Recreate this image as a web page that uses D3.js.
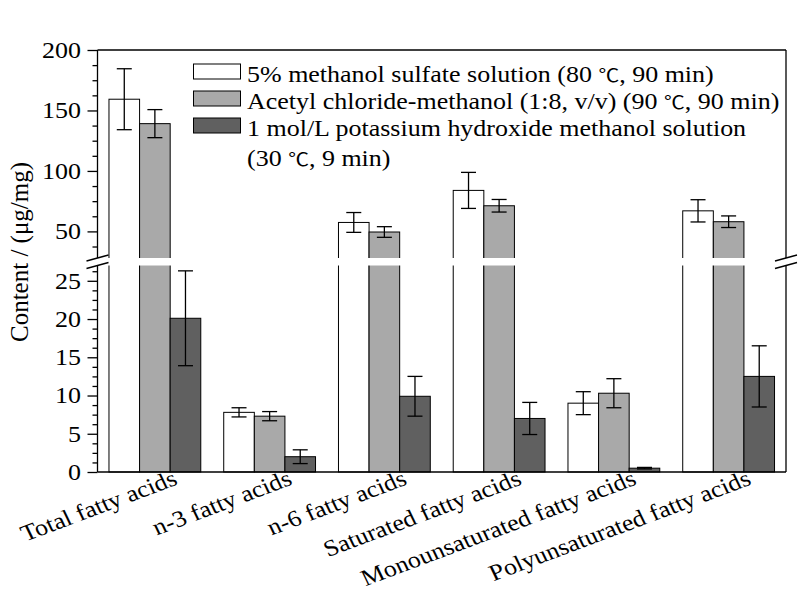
<!DOCTYPE html>
<html>
<head>
<meta charset="utf-8">
<script src="https://cdn.jsdelivr.net/npm/d3@7"></script>
<style>
  html, body { margin: 0; padding: 0; background: #fff; }
  svg { display: block; }
  text { font-family: "Liberation Serif", "Times New Roman", Times, serif; fill: #000; }
  tspan.sym { font-family: "Noto Sans CJK SC", "Noto Sans CJK JP", sans-serif; font-size: 0.8em; }
</style>
</head>
<body>
<svg id="chart" width="799" height="592"></svg>
<script>
// ---------------- data ----------------
const categories = ["Total fatty acids", "n-3 fatty acids", "n-6 fatty acids",
  "Saturated fatty acids", "Monounsaturated fatty acids", "Polyunsaturated fatty acids"];
const seriesNames = ["5% methanol sulfate solution (80 \u2103, 90 min)",
  "Acetyl chloride-methanol (1:8, v/v) (90 \u2103, 90 min)",
  "1 mol/L potassium hydroxide methanol solution"];
const legendExtra = "(30 \u2103, 9 min)";
const sulfateValues = [159.3, 7.8, 57.4, 83.9, 9.0, 67.0];
const sulfateErrors = [25.2, 0.6, 8.2, 14.9, 1.5, 9.2];
const acetylValues = [139.1, 7.3, 49.5, 71.2, 10.3, 58.0];
const acetylErrors = [11.6, 0.6, 4.4, 5.2, 1.9, 4.8];
const kohValues = [20.1, 2.0, 9.9, 7.0, 0.5, 12.5];
const kohErrors = [6.2, 0.9, 2.6, 2.1, 0.1, 4.0];
const upperTicks = [50, 100, 150, 200];
const lowerTicks = [0, 5, 10, 15, 20, 25];
const yTitle = "Content / (\u03bcg/mg)";

const seriesValues = [sulfateValues, acetylValues, kohValues];
const seriesErrors = [sulfateErrors, acetylErrors, kohErrors];
const fills = ["#ffffff", "#a9a9a9", "#606060"];

// ---------------- layout ----------------
const svg = d3.select("#chart");
const L = 97.5, R = 786, T = 50, B = 472;
const breakTop = 258, breakBot = 265.5;
const lowMax = 27, upMin = 28;
const FS = 23, SX = 1.13;

const x = d3.scaleBand().domain(categories).range([L, R]).paddingInner(0.2).paddingOuter(0.1);
const xs = d3.scaleBand().domain([0, 1, 2]).range([0, x.bandwidth()]);
const yUp = d3.scaleLinear().domain([upMin, 200]).range([breakTop, T]);
const yLo = d3.scaleLinear().domain([0, lowMax]).range([B, breakBot]);
const yv = v => v > lowMax ? yUp(v) : yLo(v);

// text with the ℃ sign in a CJK font
function richText(sel, str) {
  str.split(/(\u2103)/).forEach(part => {
    if (!part) return;
    const t = sel.append("tspan").text(part);
    if (part === "\u2103") t.attr("class", "sym");
  });
}

// bars
const g = svg.append("g");
seriesValues.forEach((vals, s) => {
  categories.forEach((c, i) => {
    const v = vals[i], e = seriesErrors[s][i];
    const x0 = x(c) + xs(s), w = xs.bandwidth();
    g.append("rect")
      .attr("x", x0).attr("y", yv(v))
      .attr("width", w).attr("height", yLo(0) - yv(v))
      .attr("fill", fills[s]).attr("stroke", "#000").attr("stroke-width", 1);
    const cx = x0 + w / 2;
    const yt = yv(v + e), yb = yv(v - e);
    g.append("line").attr("x1", cx).attr("x2", cx).attr("y1", yt).attr("y2", yb)
      .attr("stroke", "#000").attr("stroke-width", 1.3);
    [yt, yb].forEach(yy => g.append("line").attr("x1", cx - 7.5).attr("x2", cx + 7.5)
      .attr("y1", yy).attr("y2", yy).attr("stroke", "#000").attr("stroke-width", 1.3));
  });
});

// frame
const frame = svg.append("g").attr("stroke", "#000").attr("stroke-width", 1.3).attr("fill", "none");
frame.append("line").attr("x1", L).attr("x2", R).attr("y1", T).attr("y2", T);
frame.append("line").attr("x1", L).attr("x2", R).attr("y1", B).attr("y2", B);
frame.append("line").attr("x1", L).attr("x2", L).attr("y1", T).attr("y2", B);
frame.append("line").attr("x1", R).attr("x2", R).attr("y1", T).attr("y2", B);

// axes
const upAxis = d3.axisLeft(yUp).tickValues(upperTicks).tickSize(10).tickPadding(6);
const loAxis = d3.axisLeft(yLo).tickValues(lowerTicks).tickSize(10).tickPadding(6);
const upMinor = d3.axisLeft(yUp).tickValues(d3.range(37.5, 200.1, 12.5).filter(v => !upperTicks.includes(v))).tickSize(5).tickFormat("");
const loMinor = d3.axisLeft(yLo).tickValues(d3.range(1.25, 26.3, 1.25).filter(v => !lowerTicks.includes(v))).tickSize(5).tickFormat("");
[upAxis, loAxis, upMinor, loMinor].forEach(ax => {
  const a = svg.append("g").attr("transform", `translate(${L},0)`).call(ax);
  a.attr("font-family", null).attr("font-size", null);
  a.select(".domain").remove();
  a.selectAll("line").attr("stroke", "#000").attr("stroke-width", 1.3);
  a.selectAll("text")
    .attr("x", 0)
    .attr("transform", `translate(-16.5,0) scale(${SX},1)`)
    .style("font-size", FS + "px");
});

// break band
svg.append("rect").attr("x", L - 4).attr("y", breakTop).attr("width", R - L + 8)
  .attr("height", breakBot - breakTop).attr("fill", "#fff");
const slash = svg.append("g").attr("stroke", "#000").attr("stroke-width", 1.3);
[L, R].forEach(ax => {
  [breakTop, breakBot].forEach(yy => {
    slash.append("line").attr("x1", ax - 11).attr("y1", yy + 3).attr("x2", ax + 11).attr("y2", yy - 3);
  });
});

// x labels
categories.forEach(c => {
  svg.append("text")
    .attr("transform", `translate(${x(c) + x.bandwidth() / 2 + 24},${B + 12}) scale(${SX},1) rotate(-23)`)
    .attr("text-anchor", "end")
    .style("font-size", FS + "px")
    .text(c);
});

// y title
svg.append("text")
  .attr("transform", `translate(28,252) rotate(-90)`)
  .attr("text-anchor", "middle")
  .style("font-size", "25px")
  .text(yTitle);

// legend
const lg = svg.append("g");
seriesNames.forEach((n, i) => {
  const yy = 64 + i * 27;
  lg.append("rect").attr("x", 193.5).attr("y", yy).attr("width", 47).attr("height", 15)
    .attr("fill", fills[i]).attr("stroke", "#000").attr("stroke-width", 1);
  lg.append("text").attr("transform", `translate(247,${yy + 18}) scale(${SX},1)`)
    .style("font-size", FS + "px").call(richText, n);
});
lg.append("text").attr("transform", `translate(247,${64 + 2 * 27 + 18 + 30}) scale(${SX},1)`)
  .style("font-size", FS + "px").call(richText, legendExtra);
</script>
</body>
</html>
